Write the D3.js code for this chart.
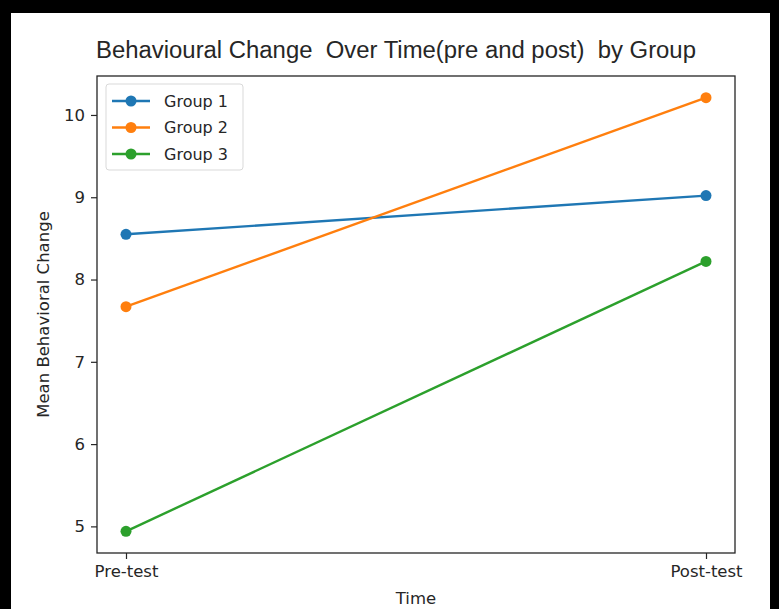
<!DOCTYPE html>
<html>
<head>
<meta charset="utf-8">
<script src="https://cdn.jsdelivr.net/npm/d3@7"></script>
<style>
  html, body { margin: 0; padding: 0; background: #000; }
  svg { display: block; }
  text { font-family: "DejaVu Sans", sans-serif; fill: #262626; }
</style>
</head>
<body>
<svg id="chart" width="779" height="609"></svg>
<script>
// ---- data ----
const timePoints = ["Pre-test", "Post-test"];
const groupNames = ["Group 1", "Group 2", "Group 3"];
const group1 = [8.55, 9.02];
const group2 = [7.67, 10.21];
const group3 = [4.94, 8.22];
const yTicks = [5, 6, 7, 8, 9, 10];
const colors = ["#1f77b4", "#ff7f0e", "#2ca02c"];
const titleText = "Behavioural Change  Over Time(pre and post)  by Group";
const xLabel = "Time";
const yLabel = "Mean Behavioral Change";

const series = [group1, group2, group3].map((vals, i) => ({
  name: groupNames[i], color: colors[i],
  points: vals.map((v, j) => ({ t: timePoints[j], v }))
}));

// ---- layout ----
const W = 779, H = 609;
const plot = { left: 97, top: 76, right: 735, bottom: 553 };

const svg = d3.select("#chart");
svg.append("rect").attr("x", 0).attr("y", 0).attr("width", W).attr("height", H).attr("fill", "#000");
svg.append("rect").attr("x", 11).attr("y", 13).attr("width", 759).attr("height", H - 13).attr("fill", "#fff");

// scales with matplotlib-like 5% margins
const allVals = [...group1, ...group2, ...group3];
const vmin = d3.min(allVals), vmax = d3.max(allVals);
const pad = (vmax - vmin) * 0.05;
const y = d3.scaleLinear().domain([vmin - pad, vmax + pad]).range([plot.bottom, plot.top]);
const xIdx = d3.scaleLinear().domain([-0.05, 1.05]).range([plot.left, plot.right]);
const x = t => xIdx(timePoints.indexOf(t));

// axes
const yAxis = d3.axisLeft(y).tickValues(yTicks).tickFormat(d3.format("d")).tickSize(6).tickPadding(6);
const gy = svg.append("g").attr("transform", `translate(${plot.left},0)`).call(yAxis);
gy.select(".domain").remove();
gy.selectAll("text").style("font-size", "16.5px").attr("fill", "#262626");
gy.selectAll("line").attr("stroke", "#262626").attr("stroke-width", 1.2);

const xAxisScale = d3.scalePoint().domain(timePoints).range([x(timePoints[0]), x(timePoints[1])]);
const xAxis = d3.axisBottom(xAxisScale).tickSize(6).tickPadding(6);
const gx = svg.append("g").attr("transform", `translate(0,${plot.bottom})`).call(xAxis);
gx.select(".domain").remove();
gx.selectAll("text").style("font-size", "16.5px").attr("fill", "#262626");
gx.selectAll("line").attr("stroke", "#262626").attr("stroke-width", 1.2);

// lines + markers
const line = d3.line().x(d => x(d.t)).y(d => y(d.v));
series.forEach(s => {
  svg.append("path").datum(s.points).attr("d", line)
    .attr("fill", "none").attr("stroke", s.color).attr("stroke-width", 2.4);
  svg.selectAll(null).data(s.points).enter().append("circle")
    .attr("cx", d => x(d.t)).attr("cy", d => y(d.v)).attr("r", 5.5).attr("fill", s.color);
});

// frame
svg.append("rect").attr("x", plot.left).attr("y", plot.top)
  .attr("width", plot.right - plot.left).attr("height", plot.bottom - plot.top)
  .attr("fill", "none").attr("stroke", "#262626").attr("stroke-width", 1.3);

// legend
const lg = svg.append("g");
lg.append("rect").attr("x", 106).attr("y", 84).attr("width", 137).attr("height", 86)
  .attr("rx", 3).attr("fill", "#fff").attr("fill-opacity", 0.8).attr("stroke", "#d9d9d9");
series.forEach((s, i) => {
  const yy = 101 + i * 26.5;
  lg.append("line").attr("x1", 112).attr("x2", 150).attr("y1", yy).attr("y2", yy)
    .attr("stroke", s.color).attr("stroke-width", 2.4);
  lg.append("circle").attr("cx", 131).attr("cy", yy).attr("r", 5.5).attr("fill", s.color);
  lg.append("text").attr("x", 164).attr("y", yy).attr("dy", "0.36em")
    .style("font-size", "16px").text(s.name);
});

// title (spaces preserved), sized to span the same width as the reference
const title = svg.append("text").attr("x", 396).attr("y", 58).attr("text-anchor", "middle")
  .attr("xml:space", "preserve").style("white-space", "pre")
  .style("font-size", "20px").style("font-family", "'Liberation Sans', Arial, sans-serif").text(titleText);
const tw = title.node().getComputedTextLength();
if (tw > 0) title.style("font-size", (20 * 600 / tw).toFixed(2) + "px");

svg.append("text").attr("x", (plot.left + plot.right) / 2).attr("y", 604).attr("text-anchor", "middle")
  .style("font-size", "16.5px").text(xLabel);
svg.append("text").attr("transform", `translate(49,${(plot.top + plot.bottom) / 2}) rotate(-90)`)
  .attr("text-anchor", "middle").style("font-size", "16.5px").text(yLabel);
</script>
</body>
</html>
